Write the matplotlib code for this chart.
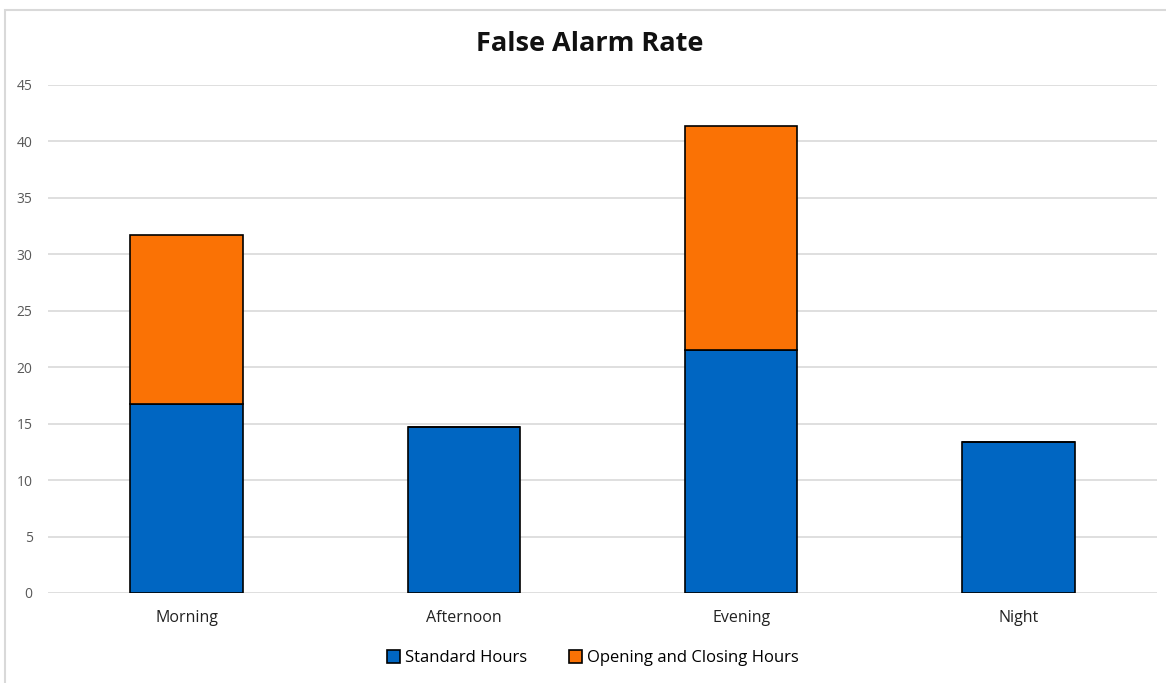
import matplotlib
matplotlib.use("Agg")
import matplotlib.pyplot as plt
from matplotlib.patches import Rectangle
import numpy as np

categories = ["Morning", "Afternoon", "Evening", "Night"]
standard_hours = [16.7, 14.7, 21.5, 13.4]
opening_closing_hours = [15.0, 0.0, 19.9, 0.0]
series_names = ["Standard Hours", "Opening and Closing Hours"]
colors = ["#0066C2", "#FA7205"]

plt.rcParams["font.family"] = ["Open Sans", "DejaVu Sans"]

fig = plt.figure(figsize=(11.66, 6.83), dpi=100)
fig.patch.set_facecolor("white")

# chart area border
fig.patches.append(Rectangle((5 / 1166, -0.1), 1.2, 1 - 10 / 683 + 0.1,
                             transform=fig.transFigure, fill=False,
                             edgecolor="#D9D9D9", linewidth=1.5))

ax = fig.add_axes([48 / 1166, 1 - 593 / 683, (1157 - 48) / 1166, (593 - 85) / 683])
x = np.arange(len(categories))
width = 0.405

ax.bar(x, standard_hours, width, color=colors[0], edgecolor="black",
       linewidth=1.2, label=series_names[0], zorder=3)
ax.bar(x, opening_closing_hours, width, bottom=standard_hours,
       color=colors[1], edgecolor="black", linewidth=1.2,
       label=series_names[1], zorder=3)

ax.set_xlim(-0.5, len(categories) - 0.5)
ax.set_ylim(0, 45)
ax.set_yticks(np.arange(0, 46, 5))
ax.yaxis.grid(True, color="#D9D9D9", linewidth=1.2, zorder=0)
ax.set_axisbelow(True)
for s in ax.spines.values():
    s.set_visible(False)
ax.tick_params(axis="y", length=0, labelsize=10, labelcolor="#595959", pad=11)
ax.tick_params(axis="x", length=0, labelsize=11.5, labelcolor="#222222", pad=12)
ax.set_xticks(x)
ax.set_xticklabels(categories)

fig.text(590 / 1166, 1 - 44 / 683, "False Alarm Rate", ha="center", va="center",
         fontsize=19.5, fontweight="bold", color="#111111")

fig.legend(loc="center", bbox_to_anchor=(593 / 1166, 1 - 658 / 683), ncol=2,
           frameon=False, fontsize=12, handlelength=0.8, handleheight=0.8,
           handletextpad=0.3, columnspacing=2.5)

fig.savefig("out.png", dpi=100)
